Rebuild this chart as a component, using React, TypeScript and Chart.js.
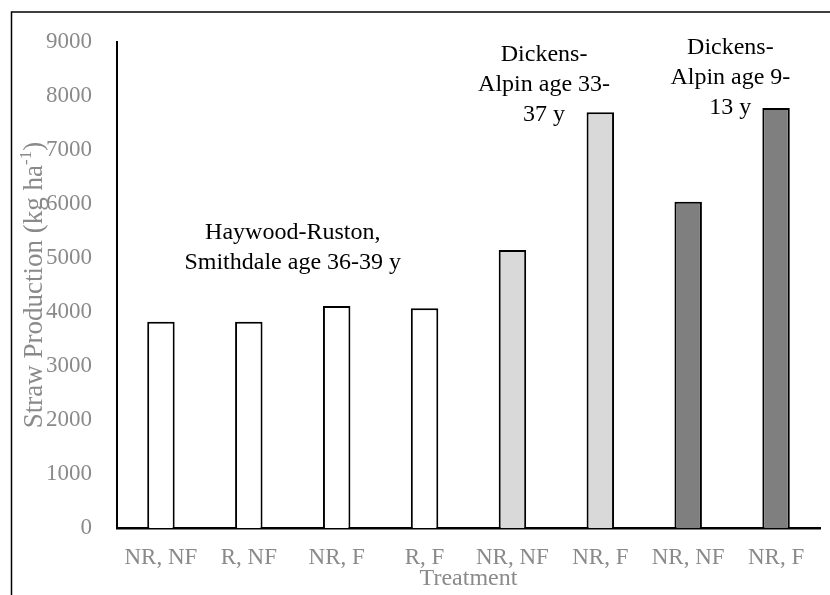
import React, { useEffect, useRef } from "react";
import { Chart, registerables } from "chart.js";

Chart.register(...registerables);

const categories = ["NR, NF", "R, NF", "NR, F", "R, F", "NR, NF", "NR, F", "NR, NF", "NR, F"];
const strawValues = [3820, 3820, 4110, 4070, 5150, 7700, 6040, 7780];
const barColors = ["#ffffff", "#ffffff", "#ffffff", "#ffffff", "#d9d9d9", "#d9d9d9", "#7f7f7f", "#7f7f7f"];
const yMin = 0;
const yMax = 9000;
const yStep = 1000;

const yTitleMain = "Straw Production (kg ha";
const yTitleSup = "-1";
const yTitleEnd = ")";

const annotationTexts = [
  ["Haywood-Ruston,", "Smithdale age 36-39 y"],
  ["Dickens-", "Alpin age 33-", "37 y"],
  ["Dickens-", "Alpin age 9-", "13 y"],
];
const annotationX = [1.5, 4.36, 6.48];
const annotationY = [5460, 8770, 8890];

const FONT = "'Liberation Serif', 'Times New Roman', serif";
const GRAY = "#8a8a8a";

const framePlugin = {
  id: "frame",
  beforeDraw(chart: any) {
    const { ctx, width, height } = chart;
    ctx.save();
    ctx.fillStyle = "#ffffff";
    ctx.fillRect(0, 0, width, height);
    ctx.strokeStyle = "#000000";
    ctx.lineWidth = 1.5;
    ctx.beginPath();
    ctx.moveTo(11.5, height + 5);
    ctx.lineTo(11.5, 12);
    ctx.lineTo(width + 5, 12);
    ctx.stroke();
    ctx.restore();
  },
};

const yTitlePlugin = {
  id: "yTitle",
  afterDraw(chart: any) {
    const { ctx, chartArea } = chart;
    const cy = (chartArea.top + chartArea.bottom) / 2;
    const cx = 35;
    ctx.save();
    ctx.translate(cx, cy);
    ctx.rotate(-Math.PI / 2);
    ctx.fillStyle = GRAY;
    ctx.textBaseline = "middle";
    ctx.textAlign = "left";
    const mainFont = `27px ${FONT}`;
    const supFont = `17px ${FONT}`;
    ctx.font = mainFont;
    const w1 = ctx.measureText(yTitleMain).width;
    const w3 = ctx.measureText(yTitleEnd).width;
    ctx.font = supFont;
    const w2 = ctx.measureText(yTitleSup).width;
    const total = w1 + w2 + w3;
    let x = -total / 2;
    ctx.font = mainFont;
    ctx.fillText(yTitleMain, x, 0);
    x += w1;
    ctx.font = supFont;
    ctx.fillText(yTitleSup, x, -8);
    x += w2;
    ctx.font = mainFont;
    ctx.fillText(yTitleEnd, x, 0);
    ctx.restore();
  },
};

const annotationPlugin = {
  id: "groupNotes",
  afterDatasetsDraw(chart: any) {
    const { ctx, scales } = chart;
    const xs = scales.x;
    const ys = scales.y;
    ctx.save();
    ctx.fillStyle = "#000000";
    ctx.font = `24px ${FONT}`;
    ctx.textAlign = "center";
    ctx.textBaseline = "middle";
    annotationTexts.forEach((lines, i) => {
      const cx = xs.getPixelForValue(annotationX[i]);
      const cy = ys.getPixelForValue(annotationY[i]);
      lines.forEach((line, j) => {
        ctx.fillText(line, cx, cy + j * 30);
      });
    });
    ctx.restore();
  },
};

export default function App() {
  const canvasRef = useRef<HTMLCanvasElement | null>(null);

  useEffect(() => {
    if (!canvasRef.current) return;
    const chart = new Chart(canvasRef.current, {
      type: "bar",
      data: {
        labels: categories,
        datasets: [
          {
            data: strawValues,
            backgroundColor: barColors,
            borderColor: "#000000",
            borderWidth: 2,
            barPercentage: 0.3125,
            categoryPercentage: 1,
          },
        ],
      },
      options: {
        animation: false,
        responsive: false,
        maintainAspectRatio: false,
        devicePixelRatio: 1,
        layout: { padding: { left: 0, top: 42, right: 10, bottom: 0 } },
        plugins: {
          legend: { display: false },
          tooltip: { enabled: false },
        },
        scales: {
          x: {
            grid: { display: false, drawTicks: false },
            border: { display: true, color: "#000000", width: 2.5 },
            ticks: {
              color: GRAY,
              font: { family: FONT, size: 23 },
              padding: 16,
              maxRotation: 0,
              autoSkip: false,
            },
            title: {
              display: true,
              text: "Treatment",
              color: GRAY,
              font: { family: FONT, size: 24 },
              padding: { top: 0, bottom: 2 },
            },
            afterFit(scale: any) {
              scale.height = 67;
            },
          },
          y: {
            min: yMin,
            max: yMax,
            grid: { display: false, drawTicks: false },
            border: { display: true, color: "#000000", width: 2 },
            ticks: {
              stepSize: yStep,
              color: GRAY,
              font: { family: FONT, size: 23 },
              padding: 25,
              callback: (v: any) => String(v),
            },
            afterFit(scale: any) {
              scale.width = 117;
            },
          },
        },
      },
      plugins: [framePlugin, annotationPlugin, yTitlePlugin],
    });
    return () => chart.destroy();
  }, []);

  return (
    <div style={{ position: "fixed", left: 0, top: 0, width: 830, height: 595 }}>
      <canvas ref={canvasRef} width={830} height={595} style={{ width: 830, height: 595 }} />
    </div>
  );
}
